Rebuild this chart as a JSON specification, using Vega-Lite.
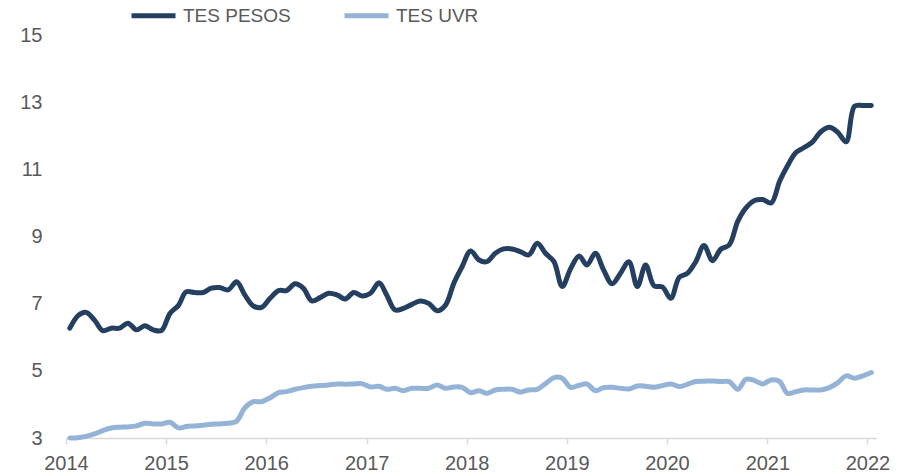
{
  "$schema": "https://vega.github.io/schema/vega-lite/v6.json",
  "width": 810,
  "height": 403,
  "autosize": "none",
  "padding": {"left": 66, "top": 35, "right": 33, "bottom": 38},
  "background": "white",
  "config": {"view": {"stroke": null}, "font": "Liberation Sans"},
  "data": {"values": [
    {"date":"2014-01-15","TES PESOS":6.27,"TES UVR":3.00},
    {"date":"2014-02-15","TES PESOS":6.65,"TES UVR":3.01},
    {"date":"2014-03-15","TES PESOS":6.74,"TES UVR":3.05},
    {"date":"2014-04-15","TES PESOS":6.51,"TES UVR":3.12},
    {"date":"2014-05-15","TES PESOS":6.20,"TES UVR":3.22},
    {"date":"2014-06-15","TES PESOS":6.27,"TES UVR":3.30},
    {"date":"2014-07-15","TES PESOS":6.27,"TES UVR":3.32},
    {"date":"2014-08-15","TES PESOS":6.42,"TES UVR":3.33},
    {"date":"2014-09-15","TES PESOS":6.22,"TES UVR":3.36},
    {"date":"2014-10-15","TES PESOS":6.34,"TES UVR":3.44},
    {"date":"2014-11-15","TES PESOS":6.22,"TES UVR":3.42},
    {"date":"2014-12-15","TES PESOS":6.20,"TES UVR":3.42},
    {"date":"2015-01-15","TES PESOS":6.71,"TES UVR":3.47},
    {"date":"2015-02-15","TES PESOS":6.95,"TES UVR":3.30},
    {"date":"2015-03-15","TES PESOS":7.35,"TES UVR":3.34},
    {"date":"2015-04-15","TES PESOS":7.33,"TES UVR":3.36},
    {"date":"2015-05-15","TES PESOS":7.33,"TES UVR":3.38},
    {"date":"2015-06-15","TES PESOS":7.46,"TES UVR":3.41},
    {"date":"2015-07-15","TES PESOS":7.48,"TES UVR":3.42},
    {"date":"2015-08-15","TES PESOS":7.41,"TES UVR":3.44},
    {"date":"2015-09-15","TES PESOS":7.65,"TES UVR":3.50},
    {"date":"2015-10-15","TES PESOS":7.26,"TES UVR":3.90},
    {"date":"2015-11-15","TES PESOS":6.93,"TES UVR":4.08},
    {"date":"2015-12-15","TES PESOS":6.89,"TES UVR":4.08},
    {"date":"2016-01-15","TES PESOS":7.16,"TES UVR":4.20},
    {"date":"2016-02-15","TES PESOS":7.39,"TES UVR":4.35},
    {"date":"2016-03-15","TES PESOS":7.39,"TES UVR":4.38},
    {"date":"2016-04-15","TES PESOS":7.59,"TES UVR":4.45},
    {"date":"2016-05-15","TES PESOS":7.46,"TES UVR":4.50},
    {"date":"2016-06-15","TES PESOS":7.08,"TES UVR":4.54},
    {"date":"2016-07-15","TES PESOS":7.18,"TES UVR":4.56},
    {"date":"2016-08-15","TES PESOS":7.31,"TES UVR":4.58},
    {"date":"2016-09-15","TES PESOS":7.26,"TES UVR":4.61},
    {"date":"2016-10-15","TES PESOS":7.14,"TES UVR":4.60},
    {"date":"2016-11-15","TES PESOS":7.33,"TES UVR":4.61},
    {"date":"2016-12-15","TES PESOS":7.23,"TES UVR":4.62},
    {"date":"2017-01-15","TES PESOS":7.31,"TES UVR":4.52},
    {"date":"2017-02-15","TES PESOS":7.62,"TES UVR":4.54},
    {"date":"2017-03-15","TES PESOS":7.26,"TES UVR":4.45},
    {"date":"2017-04-15","TES PESOS":6.81,"TES UVR":4.48},
    {"date":"2017-05-15","TES PESOS":6.86,"TES UVR":4.41},
    {"date":"2017-06-15","TES PESOS":6.98,"TES UVR":4.48},
    {"date":"2017-07-15","TES PESOS":7.08,"TES UVR":4.48},
    {"date":"2017-08-15","TES PESOS":7.01,"TES UVR":4.48},
    {"date":"2017-09-15","TES PESOS":6.79,"TES UVR":4.58},
    {"date":"2017-10-15","TES PESOS":6.95,"TES UVR":4.48},
    {"date":"2017-11-15","TES PESOS":7.61,"TES UVR":4.52},
    {"date":"2017-12-15","TES PESOS":8.10,"TES UVR":4.51},
    {"date":"2018-01-15","TES PESOS":8.57,"TES UVR":4.35},
    {"date":"2018-02-15","TES PESOS":8.30,"TES UVR":4.41},
    {"date":"2018-03-15","TES PESOS":8.25,"TES UVR":4.33},
    {"date":"2018-04-15","TES PESOS":8.50,"TES UVR":4.43},
    {"date":"2018-05-15","TES PESOS":8.63,"TES UVR":4.45},
    {"date":"2018-06-15","TES PESOS":8.63,"TES UVR":4.45},
    {"date":"2018-07-15","TES PESOS":8.55,"TES UVR":4.37},
    {"date":"2018-08-15","TES PESOS":8.45,"TES UVR":4.43},
    {"date":"2018-09-15","TES PESOS":8.80,"TES UVR":4.45},
    {"date":"2018-10-15","TES PESOS":8.50,"TES UVR":4.62},
    {"date":"2018-11-15","TES PESOS":8.25,"TES UVR":4.80},
    {"date":"2018-12-15","TES PESOS":7.51,"TES UVR":4.78},
    {"date":"2019-01-15","TES PESOS":8.05,"TES UVR":4.51},
    {"date":"2019-02-15","TES PESOS":8.42,"TES UVR":4.57},
    {"date":"2019-03-15","TES PESOS":8.15,"TES UVR":4.61},
    {"date":"2019-04-15","TES PESOS":8.50,"TES UVR":4.41},
    {"date":"2019-05-15","TES PESOS":8.00,"TES UVR":4.50},
    {"date":"2019-06-15","TES PESOS":7.59,"TES UVR":4.51},
    {"date":"2019-07-15","TES PESOS":7.90,"TES UVR":4.48},
    {"date":"2019-08-15","TES PESOS":8.25,"TES UVR":4.46},
    {"date":"2019-09-15","TES PESOS":7.51,"TES UVR":4.55},
    {"date":"2019-10-15","TES PESOS":8.15,"TES UVR":4.54},
    {"date":"2019-11-15","TES PESOS":7.53,"TES UVR":4.51},
    {"date":"2019-12-15","TES PESOS":7.50,"TES UVR":4.56},
    {"date":"2020-01-15","TES PESOS":7.16,"TES UVR":4.61},
    {"date":"2020-02-15","TES PESOS":7.79,"TES UVR":4.53},
    {"date":"2020-03-15","TES PESOS":7.90,"TES UVR":4.60},
    {"date":"2020-04-15","TES PESOS":8.25,"TES UVR":4.68},
    {"date":"2020-05-15","TES PESOS":8.73,"TES UVR":4.69},
    {"date":"2020-06-15","TES PESOS":8.28,"TES UVR":4.70},
    {"date":"2020-07-15","TES PESOS":8.62,"TES UVR":4.68},
    {"date":"2020-08-15","TES PESOS":8.75,"TES UVR":4.68},
    {"date":"2020-09-15","TES PESOS":9.45,"TES UVR":4.45},
    {"date":"2020-10-15","TES PESOS":9.85,"TES UVR":4.75},
    {"date":"2020-11-15","TES PESOS":10.07,"TES UVR":4.71},
    {"date":"2020-12-15","TES PESOS":10.10,"TES UVR":4.61},
    {"date":"2021-01-15","TES PESOS":10.00,"TES UVR":4.73},
    {"date":"2021-02-15","TES PESOS":10.65,"TES UVR":4.68},
    {"date":"2021-03-15","TES PESOS":11.10,"TES UVR":4.33},
    {"date":"2021-04-15","TES PESOS":11.50,"TES UVR":4.38},
    {"date":"2021-05-15","TES PESOS":11.65,"TES UVR":4.43},
    {"date":"2021-06-15","TES PESOS":11.82,"TES UVR":4.43},
    {"date":"2021-07-15","TES PESOS":12.12,"TES UVR":4.43},
    {"date":"2021-08-15","TES PESOS":12.25,"TES UVR":4.50},
    {"date":"2021-09-15","TES PESOS":12.10,"TES UVR":4.65},
    {"date":"2021-10-15","TES PESOS":11.82,"TES UVR":4.85},
    {"date":"2021-11-15","TES PESOS":12.88,"TES UVR":4.78},
    {"date":"2021-12-15","TES PESOS":12.90,"TES UVR":4.85},
    {"date":"2022-01-15","TES PESOS":12.90,"TES UVR":4.95}
  ]},
  "transform": [{"fold": ["TES PESOS", "TES UVR"], "as": ["series", "value"]}],
  "mark": {"type": "line", "strokeWidth": 5, "strokeCap": "round", "strokeJoin": "round", "interpolate": "catmull-rom"},
  "encoding": {
    "x": {
      "field": "date", "type": "temporal",
      "scale": {"type": "utc", "domain": [{"year": 2014, "month": 1, "date": 1, "utc": true}, {"year": 2022, "month": 2, "date": 1, "utc": true}]},
      "axis": {
        "title": null, "format": "%Y", "formatType": "utc",
        "values": [
          {"year": 2014, "month": 1, "date": 1, "utc": true},
          {"year": 2015, "month": 1, "date": 1, "utc": true},
          {"year": 2016, "month": 1, "date": 1, "utc": true},
          {"year": 2017, "month": 1, "date": 1, "utc": true},
          {"year": 2018, "month": 1, "date": 1, "utc": true},
          {"year": 2019, "month": 1, "date": 1, "utc": true},
          {"year": 2020, "month": 1, "date": 1, "utc": true},
          {"year": 2021, "month": 1, "date": 1, "utc": true},
          {"year": 2022, "month": 1, "date": 1, "utc": true}
        ],
        "grid": false, "domainColor": "#d9d9d9", "domainWidth": 1.5,
        "tickColor": "#d9d9d9", "tickWidth": 1.5, "tickSize": 6,
        "labelFont": "Liberation Sans", "labelFontSize": 20, "labelColor": "#595959",
        "labelPadding": 9, "labelDx": 4, "labelFlush": false, "labelOverlap": false
      }
    },
    "y": {
      "field": "value", "type": "quantitative",
      "scale": {"domain": [3, 15], "nice": false, "zero": false},
      "axis": {
        "title": null, "values": [3, 5, 7, 9, 11, 13, 15],
        "grid": false, "domain": false, "ticks": false,
        "labelFont": "Liberation Sans", "labelFontSize": 20, "labelColor": "#595959",
        "labelPadding": 24
      }
    },
    "color": {
      "field": "series", "type": "nominal",
      "scale": {"domain": ["TES PESOS", "TES UVR"], "range": ["#243f60", "#95b3d7"]},
      "legend": {
        "title": null, "orient": "none", "direction": "horizontal",
        "legendX": 63, "legendY": -44,
        "symbolType": "stroke", "symbolSize": 1936, "symbolStrokeWidth": 5,
        "labelFont": "Liberation Sans", "labelFontSize": 19, "labelColor": "#595959",
        "labelOffset": 5, "columnPadding": 43
      }
    }
  }
}
